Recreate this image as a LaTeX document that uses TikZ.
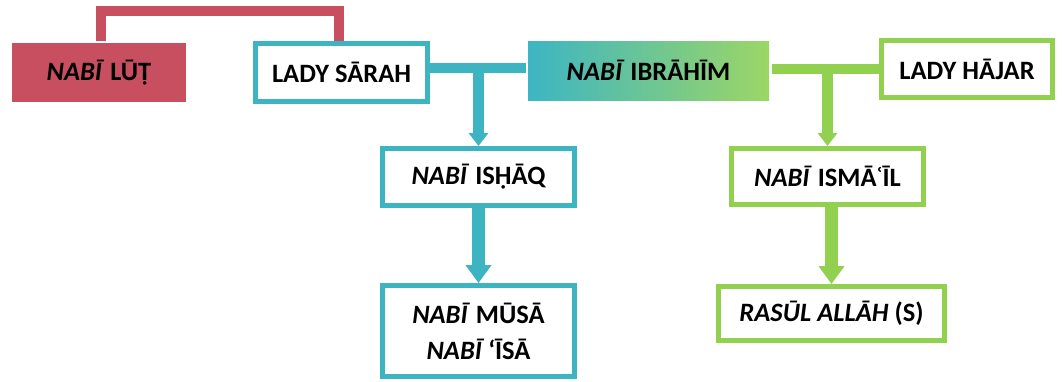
\documentclass[tikz,border=0pt]{standalone}
\usepackage{fontspec}
\setmainfont{Carlito}
\usetikzlibrary{arrows.meta,backgrounds}
\definecolor{tealc}{HTML}{3DB4C1}
\definecolor{greenc}{HTML}{92D050}
\definecolor{redc}{HTML}{C84F60}
\definecolor{gradl}{HTML}{3DB5C4}
\definecolor{gradr}{HTML}{9CD666}
\tikzset{
  box/.style={draw, line width=5pt, fill=white, inner sep=0pt, align=center,
    font=\fontsize{26.5}{36}\selectfont\bfseries, text=black},
  tealbox/.style={box, draw=tealc},
  greenbox/.style={box, draw=greenc},
  conn/.style={line width=10pt, line join=miter},
  arrowsmall/.style={line width=11pt, -{Triangle[width=19pt,length=13pt]}},
  arrowbig/.style={line width=13pt, -{Triangle[width=25pt,length=18pt]}},
}
\begin{document}
\begin{tikzpicture}[x=1pt,y=-1pt]
\useasboundingbox (0,0) rectangle (1064,381);
\node[box, draw=none, fill=redc, minimum width=174pt, minimum height=59pt] (lut) at (99,72.5) {\textit{NABĪ} LŪṬ};
\node[tealbox, minimum width=172pt, minimum height=58pt] (sarah) at (341.5,72.5) {LADY SĀRAH};
\node[box, draw=none, left color=gradl, right color=gradr, minimum width=241pt, minimum height=59pt] (ibrahim) at (648.5,70.5) {\textit{NABĪ} IBRĀHĪM};
\node[greenbox, minimum width=171pt, minimum height=57pt] (hajar) at (967,69) {LADY HĀJAR};
\node[tealbox, minimum width=192pt, minimum height=57pt] (ishaq) at (478.5,177) {\textit{NABĪ} ISḤĀQ};
\node[tealbox, minimum width=192pt, minimum height=91pt] (musa) at (478.5,331) {\textit{NABĪ} MŪSĀ\\\textit{NABĪ}\hspace{4pt}‘ĪSĀ};
\node[greenbox, minimum width=192pt, minimum height=56pt] (ismail) at (827.5,176.5) {\textit{NABĪ} ISMĀʿĪL};
\node[greenbox, minimum width=226pt, minimum height=54pt] (rasul) at (831.5,313.5) {\textit{RASŪL ALLĀH} (S)};
\coordinate (r1) at (101,11);
\coordinate (r2) at (339,11);
\coordinate (ty) at (0,68);
\coordinate (gy) at (0,69);
\begin{scope}[on background layer]
\draw[conn, redc] (lut.north -| r1) -- (r1) -- (r2) -- (r2 |- sarah.north);
\draw[conn, tealc] (sarah.east |- ty) -- (ibrahim.west |- ty);
\draw[conn, greenc] (ibrahim.east |- gy) -- (hajar.west |- gy);
\end{scope}
\draw[arrowsmall, tealc] (ishaq.north |- ty) -- (ishaq.north);
\draw[arrowsmall, greenc] (ismail.north |- gy) -- (ismail.north);
\draw[arrowbig, tealc] (ishaq.south) -- (musa.north);
\draw[arrowbig, greenc] (ismail.south -| rasul.north) -- (rasul.north);
\end{tikzpicture}
\end{document}
